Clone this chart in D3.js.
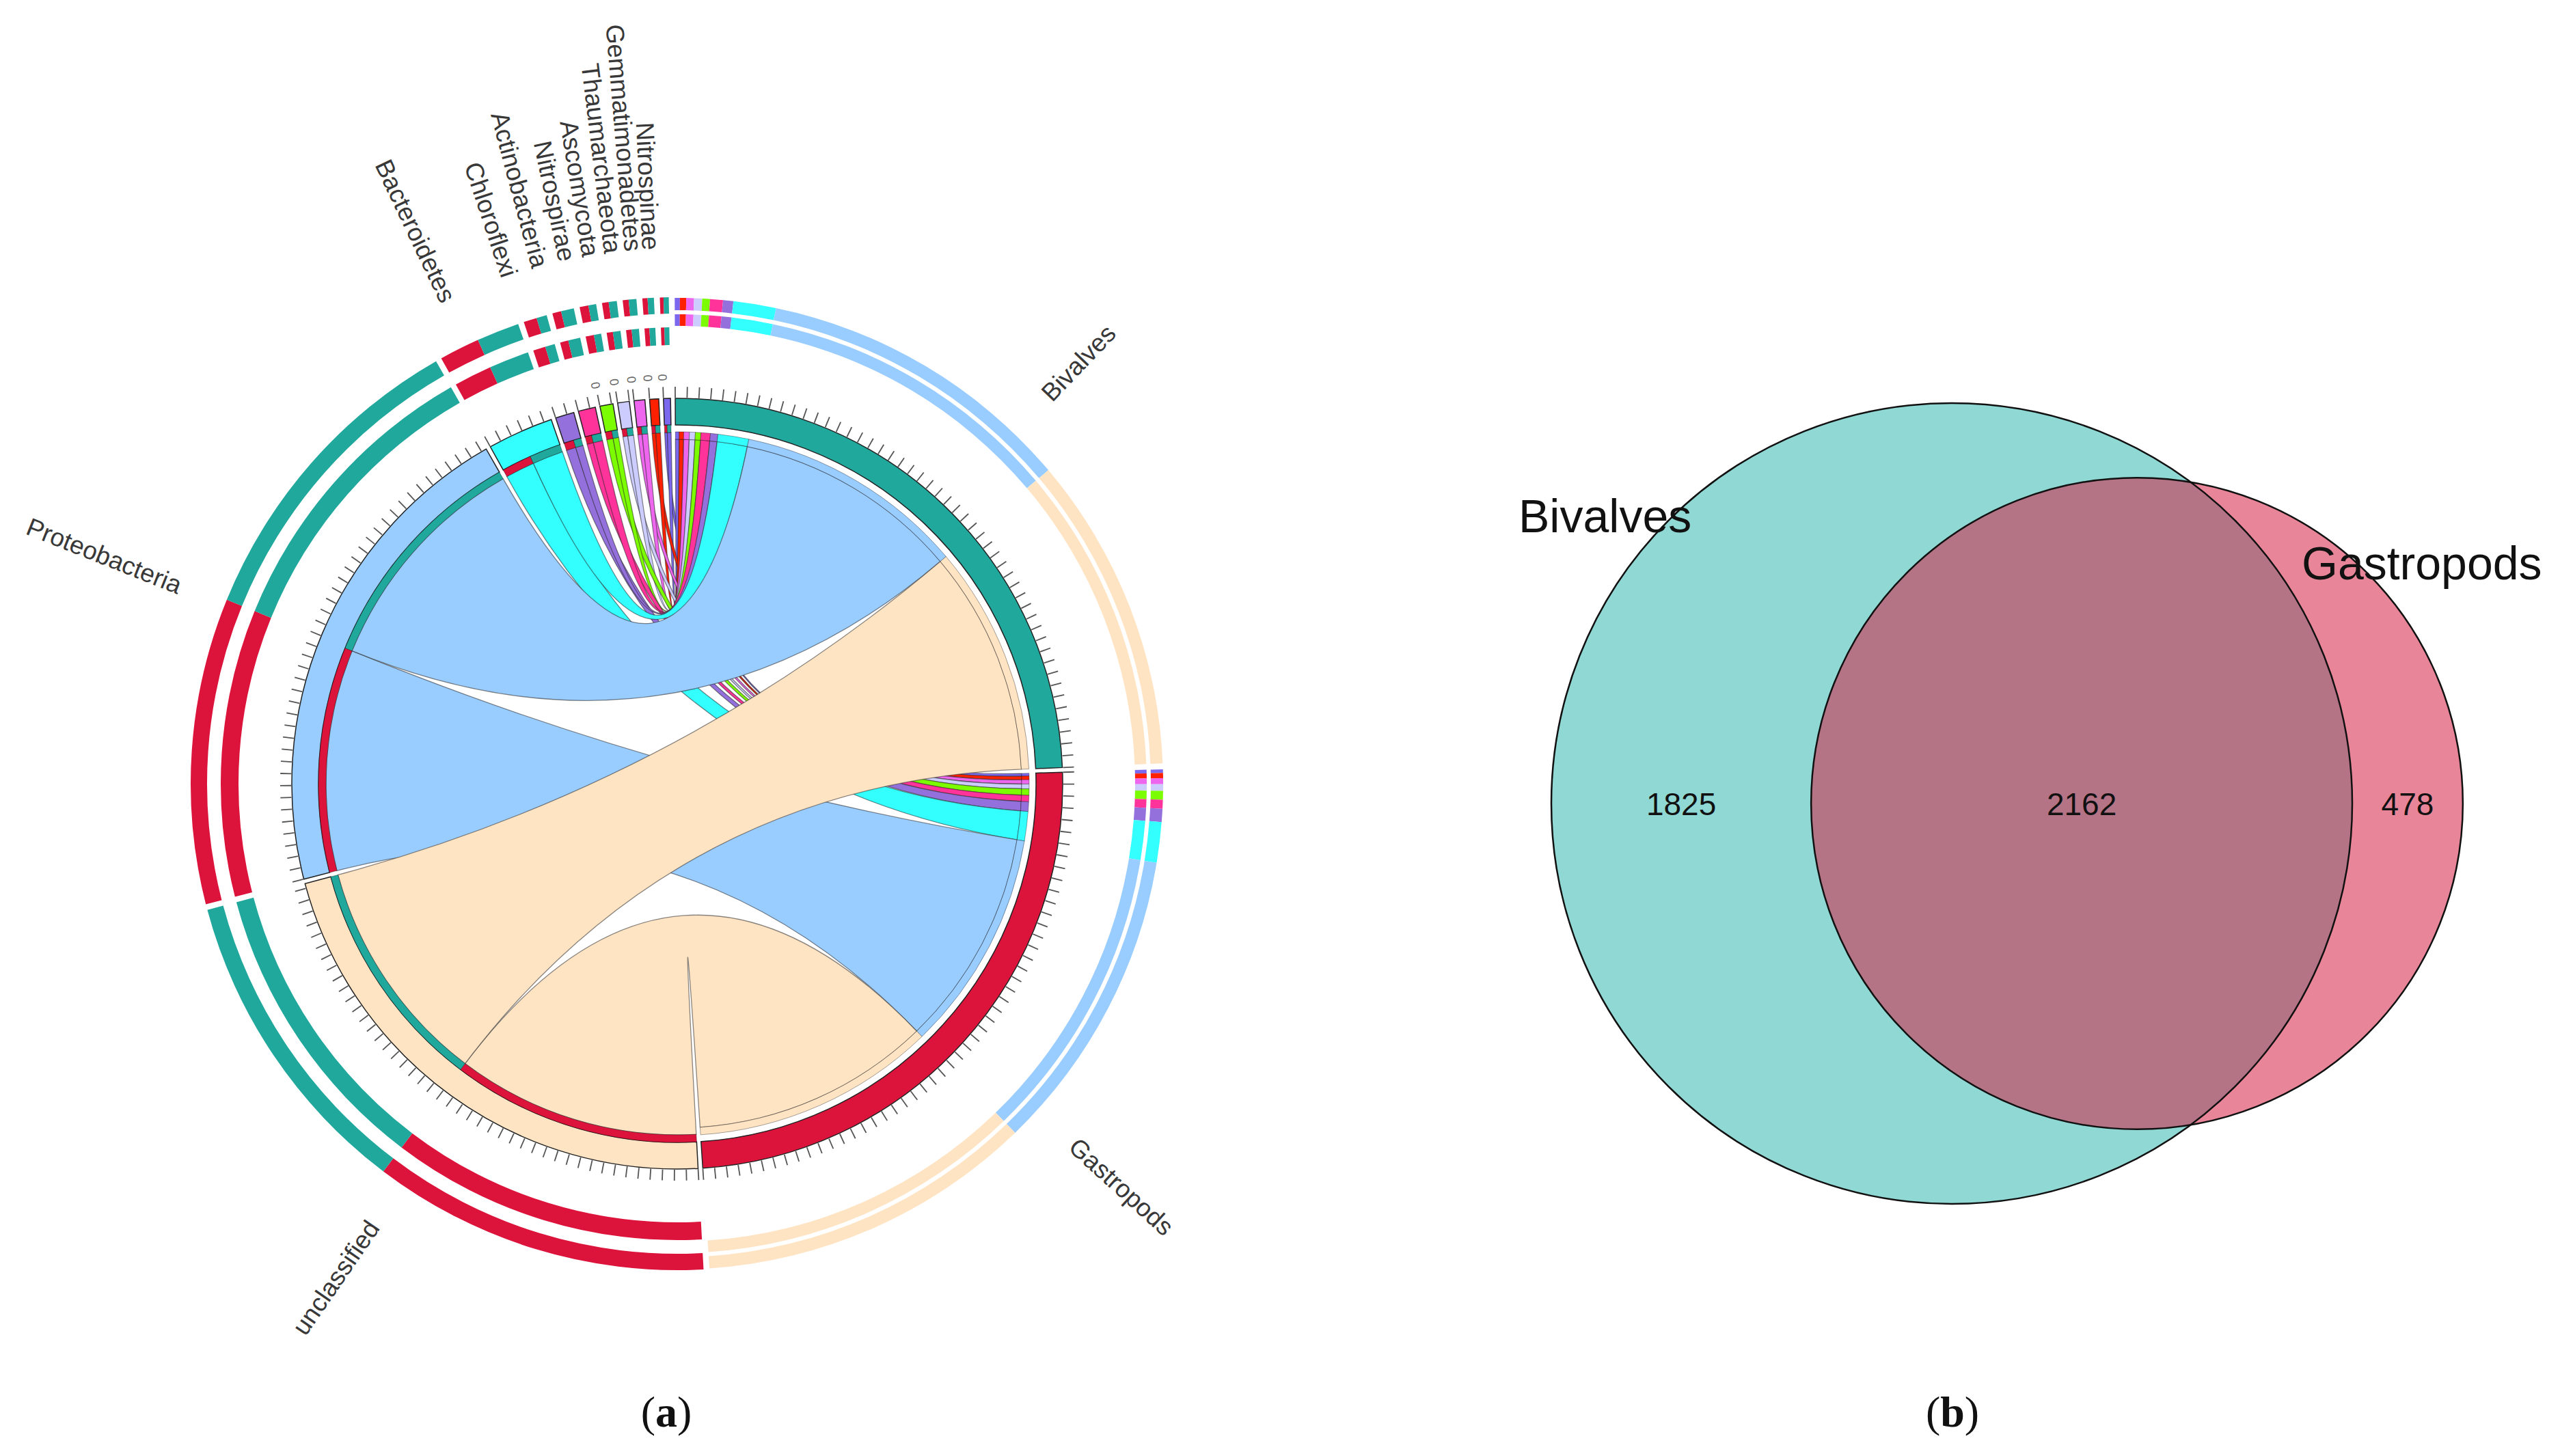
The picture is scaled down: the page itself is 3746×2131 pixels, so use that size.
<!DOCTYPE html>
<html><head><meta charset="utf-8">
<script src="https://cdn.jsdelivr.net/npm/d3@7"></script>
<style>html,body{margin:0;padding:0;background:#fff;} svg{display:block;}</style>
</head><body>
<svg id="chart" width="3746" height="2131"></svg>
<script>
// ---------------- data ----------------
const species = ["Bivalves", "Gastropods"];
const phyla = ["unclassified", "Proteobacteria", "Bacteroidetes", "Chloroflexi", "Actinobacteria",
               "Nitrospirae", "Ascomycota", "Thaumarchaeota", "Gemmatimonadetes", "Nitrospinae"];
// relative abundance (%) of each phylum in each group
const bivalvesAbund   = [43.0, 43.3, 5.8, 1.4, 1.75, 1.05, 1.1, 1.05, 0.85, 0.7];
const gastropodsAbund = [45.8, 41.6, 5.5, 1.8, 1.2, 1.2, 0.9, 0.8, 0.7, 0.5];
const speciesColors = ["#20A89C", "#DC143C"];
const phylaColors = ["#FFE4C4", "#99CCFF", "#33FFFF", "#9370DB", "#FF3399",
                     "#7CFC00", "#CCCCFF", "#EE66EE", "#FF2000", "#7B68EE"];
const tickStep = 2;
// Venn (b)
const vennSets = ["Bivalves", "Gastropods"];
const vennCounts = [1825, 2162, 478]; // Bivalves only, shared, Gastropods only
const panelLabels = ["a", "b"];

// ---------------- chord diagram (a) ----------------
const svg = d3.select("#chart");
const cx = 991, cy = 1147;
const gapDeg = 0.7, startDeg = -0.3;
const rad = d => d * Math.PI / 180;
const R = { ringIn: 525, ringOut: 564, phyBandIn: 514, spBandIn: 504, spBandOut: 515,
            tickIn: 565, tickOut: 581, label: 782, zero: 595 };
const outerRings = { phylum: [[642, 668], [688, 712]], species: [[670, 687], [693, 711]] };

const matrix = phyla.map((p, i) => [bivalvesAbund[i], gastropodsAbund[i]]);
const sectors = [];
species.forEach((s, j) => sectors.push({ name: s, type: "species", idx: j, color: speciesColors[j],
  total: d3.sum(matrix, r => r[j]) }));
phyla.forEach((p, i) => sectors.push({ name: p, type: "phylum", idx: i, color: phylaColors[i],
  total: d3.sum(matrix[i]) }));
const totalUnits = d3.sum(sectors, d => d.total);
const unitDeg = (360 - gapDeg * sectors.length) / totalUnits;
let acc = startDeg;
sectors.forEach(s => {
  s.start = acc; s.end = acc + s.total * unitDeg;
  s.scale = d3.scaleLinear().domain([0, s.total]).range([s.start, s.end]);
  acc = s.end + gapDeg;
});
// sub-parts of each sector
const partMap = {};
sectors.forEach(s => {
  s.parts = [];
  let off = 0;
  if (s.type === "species") {
    for (let i = phyla.length - 1; i >= 0; i--) {
      const v = matrix[i][s.idx];
      s.parts.push({ partner: i, color: phylaColors[i], a0: s.scale(off), a1: s.scale(off + v) });
      partMap["s" + s.idx + "_" + i] = s.parts[s.parts.length - 1];
      off += v;
    }
  } else {
    [1, 0].forEach(j => {
      const v = matrix[s.idx][j];
      s.parts.push({ partner: j, color: speciesColors[j], a0: s.scale(off), a1: s.scale(off + v) });
      partMap["p" + s.idx + "_" + j] = s.parts[s.parts.length - 1];
      off += v;
    });
  }
});

const g = svg.append("g").attr("transform", `translate(${cx},${cy})`);
const arc = d3.arc();

// chords (small phyla first so big ones lie on top)
const ribbon = d3.ribbon();
const chordG = g.append("g");
for (let i = phyla.length - 1; i >= 0; i--) {
  [1, 0].forEach(j => {
    const sp = partMap["p" + i + "_" + j], tp = partMap["s" + j + "_" + i];
    chordG.append("path")
      .attr("d", ribbon({
        source: { startAngle: rad(sp.a0), endAngle: rad(sp.a1), radius: R.phyBandIn },
        target: { startAngle: rad(tp.a0), endAngle: rad(tp.a1), radius: R.spBandIn }
      }))
      .attr("fill", phylaColors[i])
      .attr("stroke", "rgba(40,40,40,0.55)")
      .attr("stroke-width", 1.3);
  });
}

// main sector ring
g.append("g").selectAll("path").data(sectors).join("path")
  .attr("d", s => arc({ innerRadius: R.ringIn, outerRadius: R.ringOut, startAngle: rad(s.start), endAngle: rad(s.end) }))
  .attr("fill", s => s.color).attr("stroke", "#222").attr("stroke-width", 1.5);

// inner target bands
sectors.forEach(s => {
  s.parts.forEach(p => {
    const inner = s.type === "phylum" ? R.phyBandIn : R.spBandIn;
    const outer = s.type === "phylum" ? R.ringIn : R.spBandOut;
    g.append("path")
      .attr("d", arc({ innerRadius: inner, outerRadius: outer, startAngle: rad(p.a0), endAngle: rad(p.a1) }))
      .attr("fill", p.color)
      .attr("stroke", "rgba(0,0,0,0.35)").attr("stroke-width", 1);
  });
});

// outer stacked rings
sectors.forEach(s => {
  outerRings[s.type].forEach(([r0, r1]) => {
    s.parts.forEach(p => {
      g.append("path")
        .attr("d", arc({ innerRadius: r0, outerRadius: r1, startAngle: rad(p.a0), endAngle: rad(p.a1) }))
        .attr("fill", p.color);
    });
  });
});

// ticks
const tickG = g.append("g").attr("stroke", "#555").attr("stroke-width", 1.8);
sectors.forEach(s => {
  d3.range(0, s.total + 1e-6, tickStep).forEach(v => {
    const a = rad(s.scale(v));
    tickG.append("line")
      .attr("x1", R.tickIn * Math.sin(a)).attr("y1", -R.tickIn * Math.cos(a))
      .attr("x2", R.tickOut * Math.sin(a)).attr("y2", -R.tickOut * Math.cos(a));
  });
  if (s.total < 2.5) {
    const ad = s.scale(0);
    g.append("text")
      .attr("transform", `rotate(${ad}) translate(0,${-R.zero}) rotate(-90)`)
      .attr("text-anchor", "middle").attr("dominant-baseline", "central")
      .attr("font-family", "Liberation Sans, Arial, sans-serif").attr("font-size", 18)
      .attr("fill", "#666").text("0");
  }
});

// sector labels (left-half labels sit slightly counter-clockwise of the sector middle)
sectors.forEach(s => {
  const right = (s.start + s.end) / 2 < 180;
  const mid = (s.start + s.end) / 2 - (right ? 0 : 1.3);
  g.append("text")
    .attr("transform", right
      ? `rotate(${mid - 90}) translate(${R.label},0)`
      : `rotate(${mid + 90}) translate(${-R.label},0)`)
    .attr("text-anchor", right ? "start" : "end")
    .attr("dominant-baseline", "central")
    .attr("font-family", "Liberation Sans, Arial, sans-serif")
    .attr("font-size", 37).attr("fill", "#383838")
    .text(s.name);
});

// ---------------- Venn diagram (b) ----------------
const vg = svg.append("g");
const rScale = d3.scaleSqrt().domain([0, vennCounts[0] + vennCounts[1]]).range([0, 586]);
const rA = rScale(vennCounts[0] + vennCounts[1]);
const rB = rScale(vennCounts[1] + vennCounts[2]);
const vcy = 1176, vAx = 2856, centerDist = 271, vBx = vAx + centerDist;
vg.append("circle").attr("cx", vAx).attr("cy", vcy).attr("r", rA).attr("fill", "#8FD8D4");
vg.append("circle").attr("cx", vBx).attr("cy", vcy).attr("r", rB).attr("fill", "rgb(213,33,70)").attr("fill-opacity", 0.55);
vg.append("circle").attr("cx", vAx).attr("cy", vcy).attr("r", rA).attr("fill", "none").attr("stroke", "#111").attr("stroke-width", 2.5);
vg.append("circle").attr("cx", vBx).attr("cy", vcy).attr("r", rB).attr("fill", "none").attr("stroke", "#111").attr("stroke-width", 2.5);
const numX = [((vAx - rA) + (vBx - rB)) / 2, ((vBx - rB) + (vAx + rA)) / 2, ((vAx + rA) + (vBx + rB)) / 2];
vg.selectAll("text.num").data(vennCounts).join("text").attr("class", "num")
  .attr("x", (d, i) => numX[i]).attr("y", vcy + 17)
  .attr("text-anchor", "middle")
  .attr("font-family", "Liberation Sans, Arial, sans-serif").attr("font-size", 46).attr("fill", "#111")
  .text(d => d);
vg.append("text").attr("x", 2222).attr("y", 779)
  .attr("font-family", "Liberation Sans, Arial, sans-serif").attr("font-size", 68).attr("fill", "#111")
  .text(vennSets[0]);
vg.append("text").attr("x", 3368).attr("y", 848)
  .attr("font-family", "Liberation Sans, Arial, sans-serif").attr("font-size", 68).attr("fill", "#111")
  .text(vennSets[1]);

// panel labels
const panelX = [975, 2857];
panelLabels.forEach((l, i) => {
  const t = svg.append("text").attr("x", panelX[i]).attr("y", 2088).attr("text-anchor", "middle")
    .attr("font-family", "Liberation Serif, Times New Roman, serif").attr("font-size", 64).attr("fill", "#111");
  t.append("tspan").text("(");
  t.append("tspan").attr("font-weight", "bold").text(l);
  t.append("tspan").text(")");
});
</script>
</body></html>
